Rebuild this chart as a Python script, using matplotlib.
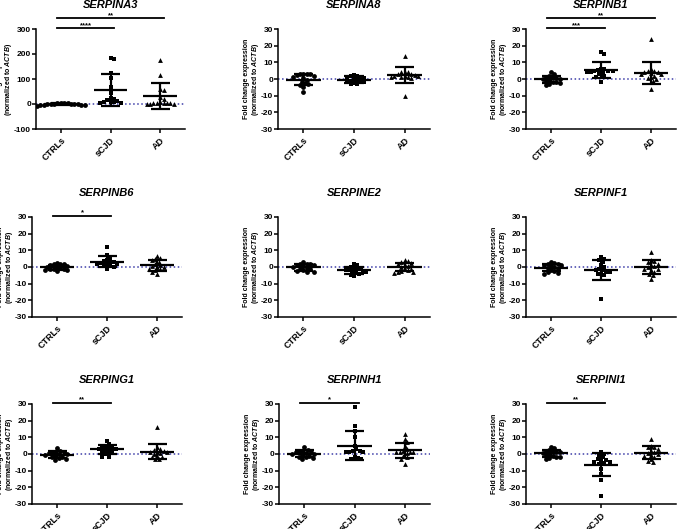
import numpy as np
import matplotlib
matplotlib.use('Agg')
import matplotlib.pyplot as plt

plt.rcParams['font.family'] = ['Liberation Sans', 'DejaVu Sans']
plt.rcParams['font.weight'] = 'bold'
plt.rcParams['axes.unicode_minus'] = False
plt.rcParams['mathtext.fontset'] = 'custom'
plt.rcParams['mathtext.it'] = 'Liberation Sans:bold:italic'

groups = ['CTRLs', 'sCJD', 'AD']
markers = ['o', 's', '^']

genes = ['SERPINA3', 'SERPINA8', 'SERPINB1',
         'SERPINB6', 'SERPINE2', 'SERPINF1',
         'SERPING1', 'SERPINH1', 'SERPINI1']

# values (fold change, normalized to ACTB)
serpina3 = [
    [2, 5, 3, -2, -4, -6, 0, 1, -3, 4, 2, -1, -5, 3, 0],
    [183, 180, 125, 105, 70, 45, 25, 22, 12, 10, 8, 6, 10, 15, 5],
    [178, 115, 60, 55, 30, 20, 10, 5, 5, 3, 2, 1, 0, 4, 3],
]
serpina8 = [
    [3, 3, 2.8, 2.5, 2, 1.5, 0.5, -0.5, -1.5, -2.5, -3, -3.5, -4.5, -7.5, 3],
    [2.5, 2, 1.8, 1.5, 1, 0.5, 0, -0.5, -1, -1.5, -2, -2.5, -3, -3.2, -1],
    [14, 4.5, 4, 3, 2.5, 2, 2, 1.5, 1, 0.5, 4, 3, 2, -10, 1],
]
serpinb1 = [
    [4, 3, 2, 1.5, 1, 0.5, 0, -0.5, -1, -1.5, -2, -2.5, -3, -3.5, 0],
    [16, 15, 6, 5.5, 5, 5, 4.5, 4, 3, 2, 1.5, 6, 5, -2, 4],
    [24, 6, 5, 4, 4, 3.5, 3, 2, 1, 0.5, 0, -1, 5, -6, 3],
]
serpinb6 = [
    [2.5, 2, 1.5, 1, 0.5, 0, -0.5, -1, -1.5, -2, -2.5, 1.5, 0, -1, -2],
    [12, 7, 5.5, 4, 3.5, 3, 2.5, 2, 1.5, 1, 0.5, 0, -1, 3, 2],
    [6.5, 5.5, 4.5, 4, 3, 2, 1, 0.5, 0, -1, -1.5, -2, -3, -4.5, 0],
]
serpine2 = [
    [3, 2, 2, 1.5, 1, 0.5, 0, -0.5, -1, -1.5, -2, -2.5, -3, -3, 1],
    [1.5, 1, 0, -0.5, -1, -1.5, -2, -2, -2.5, -3, -3, -3.5, -4, -5, -5.5],
    [4, 3.5, 3, 2.5, 2, 1, 0.5, 0, -1, -1.5, -2, -2.5, -3, -3.5, -3],
]
serpinf1 = [
    [3, 2.5, 2, 1.5, 1, 0.5, 0, -0.5, -1, -2, -2.5, -3, -3.5, -4, 1],
    [6, 5, 4, 3, 1, 0, -1, -2, -3, -3, -4, -4.5, -5, -19, -2],
    [9, 4, 3.5, 3, 2, 1, 0.5, 0, -1, -2, -3, -4, -5, -7.5, -1],
]
serping1 = [
    [3.5, 2, 1.5, 1, 0.5, 0, -0.5, -1, -1.5, -2, -2.5, -3, -3.5, 1, 0],
    [8, 6, 5, 4.5, 4, 3.5, 3, 2.5, 2, 1.5, 1, 0, -1.5, -1.5, 3],
    [16, 4, 3, 2.5, 2, 1.5, 1, 0.5, 0, -1, -1.5, -2, -3, -3, 1],
]
serpinh1 = [
    [4, 2.5, 2, 1.5, 1, 0.5, 0, -0.5, -1, -1.5, -2, -2.5, -3, 1.5, 0],
    [28, 17, 14, 10, 5, 3, 2, 2, 1.5, 1.5, 1, -2, -2.5, -3, -3],
    [12, 9, 7, 5, 3, 2, 1.5, 1.5, 1, 0.5, -1, -2, -3, -6, 1.5],
]
serpini1 = [
    [4.5, 3.5, 2.5, 2, 1.5, 1, 0.5, 0, -0.5, -1, -1.5, -2, -2.5, -3, 1],
    [1, 0, -1, -2, -3, -3.5, -4, -4.5, -5, -5.5, -6, -9, -12, -15.5, -25],
    [9, 5, 4.5, 4, 3, 2, 1, 0.5, 0, -1, -2, -3, -4, -5, -0.5],
]
all_data = [serpina3, serpina8, serpinb1, serpinb6, serpine2,
            serpinf1, serping1, serpinh1, serpini1]

# significance: (group a, group b, stars)
sig = {
    'SERPINA3': [(0, 1, '****'), (0, 2, '**')],
    'SERPINB1': [(0, 1, '***'), (0, 2, '**')],
    'SERPINB6': [(0, 1, '*')],
    'SERPING1': [(0, 1, '**')],
    'SERPINH1': [(0, 1, '*')],
    'SERPINI1': [(0, 1, '**')],
}

W, H = 677, 529
# axes boxes in pixels: left, top, right, bottom
boxes = [
    (36, 29, 185, 129), (278, 29, 430, 129), (526, 29, 676, 129),
    (32, 217, 182, 317), (278, 217, 430, 317), (526, 217, 676, 317),
    (32, 404, 182, 504), (279, 404, 430, 504), (526, 404, 676, 504),
]


def swarm(vals, lo, hi, wpx, d=3.4):
    # spread points sideways so they do not overlap (pixel space)
    ys = np.asarray(vals, float) * 100.0 / (hi - lo)
    order = np.argsort(-ys)
    placed = []
    offs = np.zeros(len(ys))
    cands = [0.0]
    for k in range(1, 40):
        cands += [k * d * 0.5, -k * d * 0.5]
    for i in order:
        for c in cands:
            if all((c - px) ** 2 + (ys[i] - py) ** 2 >= d * d for px, py in placed):
                break
        placed.append((c, ys[i]))
        offs[i] = c
    return offs / (wpx / 3.0)


fig = plt.figure(figsize=(W / 100, H / 100), dpi=100)

for gene, data, (l, t, r, b) in zip(genes, all_data, boxes):
    ax = fig.add_axes([l / W, 1 - b / H, (r - l) / W, (b - t) / H])
    lo, hi = (-100, 300) if gene == 'SERPINA3' else (-30, 30)
    ax.axhline(0, color='#3d3da8', ls=':', lw=1.1, zorder=0)
    for i, vals in enumerate(data):
        vals = np.array(vals, float)
        xo = swarm(vals, lo, hi, r - l)
        ax.scatter(i + xo, vals, marker=markers[i], s=12, color='black',
                   linewidths=0, zorder=3)
        m, sd = vals.mean(), vals.std(ddof=1)
        ax.hlines(m, i - 0.34, i + 0.34, color='black', lw=1.6, zorder=4)
        ax.vlines(i, m - sd, m + sd, color='black', lw=1.6, zorder=4)
        ax.hlines([m - sd, m + sd], i - 0.19, i + 0.19, color='black',
                  lw=1.6, zorder=4)
    ax.set_xlim(-0.5, 2.5)
    ax.set_ylim(lo, hi)
    if gene == 'SERPINA3':
        ax.set_yticks([-100, 0, 100, 200, 300])
    else:
        ax.set_yticks([-30, -20, -10, 0, 10, 20, 30])
    ax.set_xticks(range(3))
    ax.set_xticklabels(groups, rotation=45, ha='right', rotation_mode='anchor',
                       fontsize=6.5, fontweight='bold')
    ax.tick_params(axis='y', labelsize=6, length=3, width=1.1, pad=0.5)
    ax.tick_params(axis='x', length=3, width=1.1, pad=2)
    for s in ['top', 'right']:
        ax.spines[s].set_visible(False)
    for s in ['left', 'bottom']:
        ax.spines[s].set_linewidth(1.1)
    ax.set_ylabel('Fold change expression\n(normalized to $\\mathit{ACTB}$)',
                  fontsize=5, fontweight='bold', labelpad=0, linespacing=1.05)
    ax.set_title(gene, fontsize=8, fontweight='bold', fontstyle='italic', pad=15)
    tr = ax.get_xaxis_transform()
    comps = sig.get(gene, [])
    for j, (a, c, stars) in enumerate(comps):
        if len(comps) == 2:
            yy = 1.01 if j == 0 else 1.11
        else:
            yy = 1.015
        ax.plot([a - 0.08, c + 0.08], [yy, yy], color='black', lw=1.3,
                transform=tr, clip_on=False)
        ax.text((a + c) / 2, yy + 0.012, stars, transform=tr, ha='center',
                va='baseline', fontsize=5.5, fontweight='bold')

fig.savefig('out.png', dpi=100)
